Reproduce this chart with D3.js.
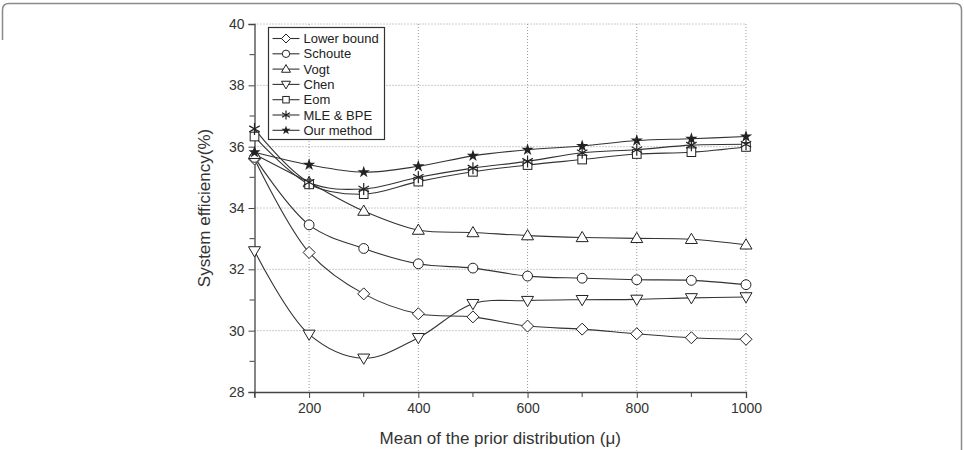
<!DOCTYPE html>
<html>
<head>
<meta charset="utf-8">
<script src="https://cdn.jsdelivr.net/npm/d3@7"></script>
<style>
  body { margin: 0; background: #fff; }
  svg { font-family: "Liberation Sans", Arial, sans-serif; }
</style>
</head>
<body>
<svg id="chart" width="964" height="450"></svg>
<script>
// Data
const mu = [100, 200, 300, 400, 500, 600, 700, 800, 900, 1000];
const lowerBound = [35.6, 32.55, 31.2, 30.55, 30.45, 30.15, 30.05, 29.9, 29.77, 29.72];
const schoute = [35.65, 33.45, 32.68, 32.18, 32.04, 31.78, 31.71, 31.66, 31.64, 31.5];
const vogt = [35.75, 34.83, 33.9, 33.28, 33.2, 33.1, 33.04, 33.01, 32.98, 32.8];
const chen = [32.6, 29.88, 29.1, 29.77, 30.88, 30.98, 31.01, 31.02, 31.07, 31.1];
const eom = [36.33, 34.77, 34.45, 34.86, 35.18, 35.4, 35.58, 35.76, 35.82, 35.99];
const mleBpe = [36.58, 34.84, 34.62, 35.0, 35.3, 35.52, 35.8, 35.9, 36.05, 36.08];
const ourMethod = [35.82, 35.41, 35.17, 35.36, 35.7, 35.9, 36.02, 36.2, 36.26, 36.33];

const seriesNames = ["Lower bound", "Schoute", "Vogt", "Chen", "Eom", "MLE & BPE", "Our method"];
const seriesValues = [lowerBound, schoute, vogt, chen, eom, mleBpe, ourMethod];
const markerTypes = ["diamond", "circle", "triUp", "triDown", "square", "asterisk", "star"];

const xTicks = [200, 400, 600, 800, 1000];
const yTicks = [28, 30, 32, 34, 36, 38, 40];

const margin = {top: 24, right: 218, bottom: 58, left: 254.5};
const width = 964 - margin.left - margin.right;
const height = 450 - margin.top - margin.bottom;

const root = d3.select("#chart");

// outer rounded frame
root.append("path")
    .attr("d", "M2.5,40 L2.5,10 Q2.5,3.5 9,3.5 L955,3.5 Q961.5,3.5 961.5,10 L961.5,450")
    .attr("fill", "none")
    .attr("stroke", "#8a8a8a")
    .attr("stroke-width", 1.5);

const svg = root.append("g")
    .attr("transform", `translate(${margin.left},${margin.top})`);

const x = d3.scaleLinear().domain([100, 1000]).range([0, width]);
const y = d3.scaleLinear().domain([28, 40]).range([height, 0]);

// dotted grid
svg.append("g").selectAll("line")
    .data(xTicks)
    .join("line")
    .attr("x1", d => x(d)).attr("x2", d => x(d))
    .attr("y1", 0).attr("y2", height)
    .attr("stroke", "#999").attr("stroke-dasharray", "1,2");
svg.append("g").selectAll("line")
    .data(yTicks.filter(d => d > 28))
    .join("line")
    .attr("x1", 0).attr("x2", width)
    .attr("y1", d => y(d)).attr("y2", d => y(d))
    .attr("stroke", "#999").attr("stroke-dasharray", "1,2");

// axes
const xAxis = svg.append("g")
    .attr("transform", `translate(0,${height})`)
    .call(d3.axisBottom(x).tickValues(xTicks).tickFormat(d3.format("d")).tickSize(6).tickPadding(5));
xAxis.append("g").selectAll("line")
    .data(d3.range(100, 1001, 100).filter(d => d % 200 !== 0))
    .join("line")
    .attr("x1", d => x(d)).attr("x2", d => x(d))
    .attr("y1", 0).attr("y2", 5)
    .attr("stroke", "#444");

const yAxis = svg.append("g")
    .call(d3.axisLeft(y).tickValues(yTicks).tickSize(6).tickPadding(4));
yAxis.append("g").selectAll("line")
    .data(d3.range(29, 40, 2))
    .join("line")
    .attr("x1", 0).attr("x2", -5)
    .attr("y1", d => y(d)).attr("y2", d => y(d))
    .attr("stroke", "#444");

[xAxis, yAxis].forEach(a => {
    a.select(".domain").attr("stroke", "#444").attr("stroke-width", 1.3);
    a.selectAll(".tick line").attr("stroke", "#444");
    a.selectAll("text").attr("font-size", 14).attr("fill", "#333")
        .attr("font-family", "Liberation Sans, Arial, sans-serif");
});

// axis titles
svg.append("text")
    .attr("x", width / 2)
    .attr("y", height + 52)
    .attr("text-anchor", "middle")
    .attr("font-size", 17)
    .attr("fill", "#333")
    .text("Mean of the prior distribution (μ)");
svg.append("text")
    .attr("transform", "rotate(-90)")
    .attr("x", -y(34))
    .attr("y", -45)
    .attr("text-anchor", "middle")
    .attr("font-size", 17)
    .attr("fill", "#333")
    .text("System efficiency(%)");

// marker drawing
function drawMarker(g, type, s) {
    const st = "#222";
    if (type === "diamond") {
        g.append("path").attr("d", `M0,${-s}L${s},0L0,${s}L${-s},0Z`)
            .attr("fill", "#fff").attr("stroke", st);
    } else if (type === "circle") {
        g.append("circle").attr("r", s * 0.82).attr("fill", "#fff").attr("stroke", st);
    } else if (type === "triUp") {
        g.append("path").attr("d", `M0,${-s}L${s},${s * 0.7}L${-s},${s * 0.7}Z`)
            .attr("fill", "#fff").attr("stroke", st);
    } else if (type === "triDown") {
        g.append("path").attr("d", `M0,${s}L${s},${-s * 0.7}L${-s},${-s * 0.7}Z`)
            .attr("fill", "#fff").attr("stroke", st);
    } else if (type === "square") {
        const h = s * 0.72;
        g.append("rect").attr("x", -h).attr("y", -h).attr("width", 2 * h).attr("height", 2 * h)
            .attr("fill", "#fff").attr("stroke", st);
    } else if (type === "asterisk") {
        const a = s, b = s * 0.87, c = s * 0.5;
        g.append("path")
            .attr("d", `M0,${-a}L0,${a}M${-b},${-c}L${b},${c}M${-b},${c}L${b},${-c}`)
            .attr("stroke", st).attr("stroke-width", 1.2).attr("fill", "none");
    } else if (type === "star") {
        g.append("path")
            .attr("d", d3.symbol().type(d3.symbolStar).size(s * s * 1.3)())
            .attr("fill", "#222").attr("stroke", "none");
    }
}

const line = d3.line()
    .x((d, i) => x(mu[i]))
    .y(d => y(d))
    .curve(d3.curveCatmullRom.alpha(0.5));

seriesValues.forEach(vals => {
    svg.append("path")
        .datum(vals)
        .attr("d", line)
        .attr("fill", "none")
        .attr("stroke", "#333")
        .attr("stroke-width", 1.1);
});

seriesValues.forEach((vals, k) => {
    vals.forEach((v, i) => {
        const g = svg.append("g").attr("transform", `translate(${x(mu[i])},${y(v)})`);
        drawMarker(g, markerTypes[k], 6);
    });
});

// legend
const legend = root.append("g").attr("transform", "translate(268.5,27.5)");
legend.append("rect")
    .attr("width", 116).attr("height", 112)
    .attr("fill", "#fff").attr("stroke", "#333").attr("stroke-width", 1.2);
seriesNames.forEach((name, i) => {
    const yy = 11 + i * 15.3;
    legend.append("line")
        .attr("x1", 4).attr("x2", 31).attr("y1", yy).attr("y2", yy)
        .attr("stroke", "#333").attr("stroke-width", 1.1);
    const g = legend.append("g").attr("transform", `translate(17.5,${yy})`);
    drawMarker(g, markerTypes[i], 4.5);
    legend.append("text")
        .attr("x", 35).attr("y", yy)
        .attr("dy", "0.35em")
        .attr("font-size", 13)
        .attr("fill", "#222")
        .text(name);
});
</script>
</body>
</html>
